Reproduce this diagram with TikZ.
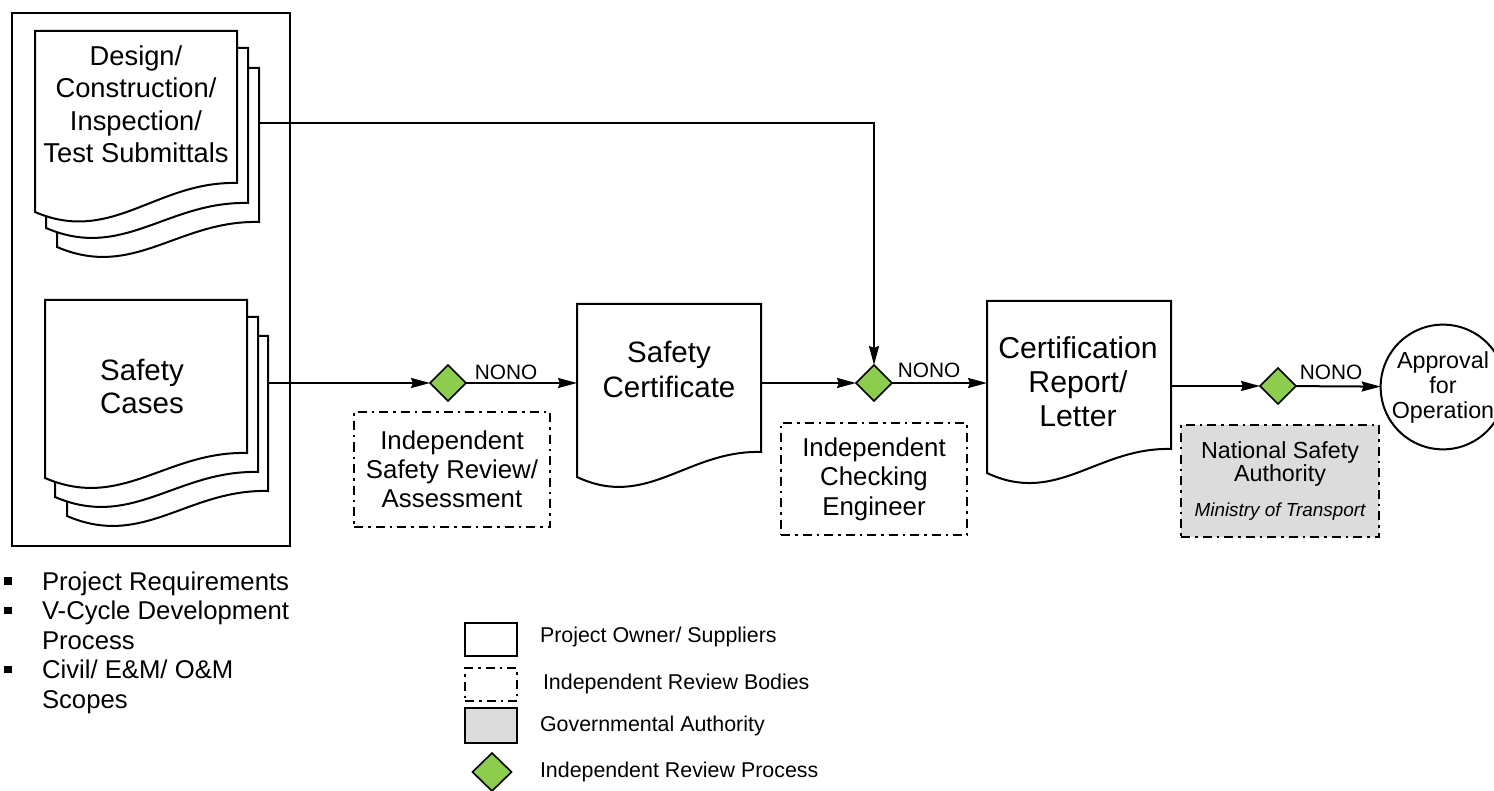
\documentclass[tikz,border=0pt]{standalone}
\usepackage{fontspec}
\setmainfont{Liberation Sans}
\usetikzlibrary{arrows.meta,shapes.geometric,calc}
\definecolor{reviewgreen}{RGB}{141,205,78}
\definecolor{authgray}{RGB}{220,220,220}

% outline of a sheet with a wavy lower edge, drawn on a named area node
% #1 node name, #2 sheet width, #3 extra drop of the lower left corner
\newcommand\sheetedge[3]{%
  \draw[sheet] (#1.north west) -- (#1.north east) -- (#1.south east)
    .. controls +({-0.4*#2},-2) and +({0.38*#2},33) .. ([yshift=-#3pt]#1.south west) -- cycle;}

\tikzset{
  every node/.style={inner sep=0pt, outer sep=0pt},
  frame/.style={draw, line width=2pt},
  sheetarea/.style={rectangle, draw=none, inner sep=0pt},
  sheet/.style={draw, line width=2pt, fill=white, line join=miter},
  flow/.style={line width=2pt, -{Stealth[length=19pt,width=10pt,inset=2pt]}},
  reviewbody/.style={draw, line width=2pt, dash pattern=on 9pt off 5pt on 2.5pt off 5pt, align=center},
  authority/.style={reviewbody, fill=authgray},
  gate/.style={diamond, draw, line width=1.6pt, fill=reviewgreen, minimum width=36pt, minimum height=36pt, inner sep=0pt},
  nono/.style={font=\fontsize{20.8}{24}\selectfont},
  bodytext/.style={align=center, font=\fontsize{25.8}{29}\selectfont},
  bullettext/.style={anchor=base west, font=\fontsize{25.7}{29}\selectfont},
  bulletmark/.style={rectangle, fill=black, minimum size=7.5pt},
  legendtext/.style={anchor=west, font=\fontsize{21.4}{24}\selectfont},
}

\begin{document}
\begin{tikzpicture}[x=1pt, y=-1pt]
\useasboundingbox (0,0) rectangle (1494,791);
\fill[white] (0,0) rectangle (1494,791);

% project owner frame
\node[frame, minimum width=278pt, minimum height=533pt] (owner) at (151,279.5) {};

% submittal sheets (back to front)
\node[sheetarea, minimum width=202pt, minimum height=154pt] (des3) at (158,145) {};
\node[sheetarea, minimum width=202pt, minimum height=155pt] (des2) at (147,125.5) {};
\node[sheetarea, minimum width=202pt, minimum height=152pt] (des1) at (136,107) {};
\sheetedge{des3}{202}{25}
\sheetedge{des2}{202}{25}
\sheetedge{des1}{202}{29}
\node[align=center, font=\fontsize{27.3}{32.5}\selectfont] (destext) at (136,104)
  {Design/\\Construction/\\Inspection/\\Test Submittals};

% safety case sheets (back to front)
\node[sheetarea, minimum width=201pt, minimum height=155pt] (sc3) at (167.5,413.5) {};
\node[sheetarea, minimum width=203pt, minimum height=155pt] (sc2) at (156.5,394.5) {};
\node[sheetarea, minimum width=202pt, minimum height=153pt] (sc1) at (146,376.5) {};
\sheetedge{sc3}{201}{25}
\sheetedge{sc2}{203}{25}
\sheetedge{sc1}{202}{25}
\node[align=center, font=\fontsize{29.5}{33}\selectfont] (sctext) at (142,386)
  {Safety\\Cases};

% safety certificate
\node[sheetarea, minimum width=184pt, minimum height=148pt] (cert) at (669,378) {};
\sheetedge{cert}{184}{25}
\node[align=center, font=\fontsize{29.5}{35}\selectfont] (certtext) at (669,369)
  {Safety\\Certificate};

% certification report
\node[sheetarea, minimum width=184pt, minimum height=148pt] (rep) at (1079,375) {};
\sheetedge{rep}{184}{24}
\node[align=center, font=\fontsize{30.2}{34}\selectfont] (reptext) at (1078,382)
  {Certification\\Report/\\Letter};

% approval
\node[circle, draw, line width=2pt, minimum size=121pt, inner sep=0pt, align=center,
      font=\fontsize{23.3}{25}\selectfont] (appr) at (1443,387)
  {Approval\\for\\Operation};

% review gates
\node[gate] (d1) at (448,383) {};
\node[gate] (d2) at (874,383) {};
\node[gate] (d3) at (1278,386) {};
\node[nono] (n1) at (506,372) {NONO};
\node[nono] (n2) at (929,370) {NONO};
\node[nono] (n3) at (1331,372) {NONO};

% review bodies
\node[reviewbody, bodytext, minimum width=196pt, minimum height=115pt] (isr) at (452,469.5)
  {Independent\\Safety Review/\\Assessment};
\node[reviewbody, bodytext, minimum width=186pt, minimum height=112pt, font=\fontsize{25.8}{29.5}\selectfont] (ice) at (874,479)
  {Independent\\Checking\\Engineer};
\node[authority, minimum width=198pt, minimum height=112pt] (nsa) at (1280,481)
  {{\fontsize{23.3}{28}\selectfont National Safety}\\{\fontsize{23.3}{28}\selectfont Authority}\\[16pt]{\fontsize{18.9}{22}\selectfont\itshape Ministry of Transport}};

% connectors
\draw[flow] ([yshift=22pt]des3.east) -| (d2);
\draw[flow] (sc3.east |- d1) -- (d1);
\draw[flow] (d1) -- (d1 -| cert.west);
\draw[flow] (cert.east |- d2) -- (d2);
\draw[flow] (d2) -- (d2 -| rep.west);
\draw[flow] (rep.east |- d3) -- (d3);
\draw[flow] (d3) -- (appr);

% scope bullets
\node[bulletmark] (m1) at (8,581) {};
\node[bulletmark] (m2) at (8,610.5) {};
\node[bulletmark] (m3) at (8,669.5) {};
\node[bullettext] (b1) at (42,590) {Project Requirements};
\node[bullettext] (b2) at (42,619.5) {V-Cycle Development};
\node[bullettext] (b3) at (42,649) {Process};
\node[bullettext] (b4) at (42,678.5) {Civil/ E\&M/ O\&M};
\node[bullettext] (b5) at (42,708) {Scopes};

% legend
\node[frame, minimum width=52pt, minimum height=33pt] (lg1) at (491,639.5) {};
\node[reviewbody, minimum width=52pt, minimum height=33pt] (lg2) at (491,684.5) {};
\node[frame, fill=authgray, minimum width=52pt, minimum height=35pt] (lg3) at (491,725.5) {};
\node[gate, minimum width=39pt, minimum height=38pt] (lg4) at (492,772) {};
\node[legendtext] (t1) at (540,637) {Project Owner/ Suppliers};
\node[legendtext] (t2) at (543,684) {Independent Review Bodies};
\node[legendtext] (t3) at (540,726) {Governmental Authority};
\node[legendtext] (t4) at (540,772) {Independent Review Process};
\end{tikzpicture}
\end{document}
